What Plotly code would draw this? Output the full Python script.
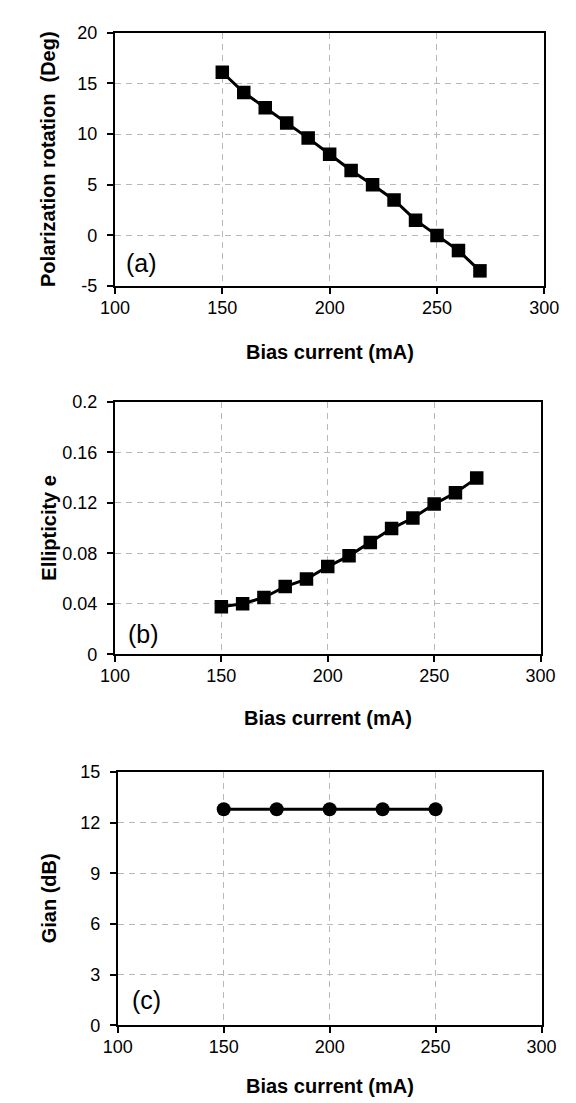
import plotly.graph_objects as go

# Panel (a): polarization rotation
current_a = [150, 160, 170, 180, 190, 200, 210, 220, 230, 240, 250, 260, 270]
rotation_deg = [16.1, 14.1, 12.6, 11.1, 9.6, 8.0, 6.4, 5.0, 3.5, 1.5, 0.0, -1.5, -3.5]

# Panel (b): ellipticity
current_b = [150, 160, 170, 180, 190, 200, 210, 220, 230, 240, 250, 260, 270]
ellipticity = [0.0377, 0.040, 0.045, 0.0536, 0.0596, 0.0695, 0.078, 0.0886, 0.0996, 0.108, 0.119, 0.128, 0.1396]

# Panel (c): gain
current_c = [150, 175, 200, 225, 250]
gain_db = [12.8, 12.8, 12.8, 12.8, 12.8]

x_ticks = [100, 150, 200, 250, 300]
ya_ticks = [-5, 0, 5, 10, 15, 20]
yb_ticks = [0, 0.04, 0.08, 0.12, 0.16, 0.2]
yb_text = ["0", "0.04", "0.08", "0.12", "0.16", "0.2"]
yc_ticks = [0, 3, 6, 9, 12, 15]

FONT = "Liberation Sans, Arial, sans-serif"
W, H = 576, 1103

fig = go.Figure()
fig.add_trace(go.Scatter(x=current_a, y=rotation_deg, mode="lines+markers",
                         line=dict(color="black", width=3),
                         marker=dict(symbol="square", size=13.5, color="black"),
                         xaxis="x", yaxis="y", showlegend=False))
fig.add_trace(go.Scatter(x=current_b, y=ellipticity, mode="lines+markers",
                         line=dict(color="black", width=3),
                         marker=dict(symbol="square", size=13.5, color="black"),
                         xaxis="x2", yaxis="y2", showlegend=False))
fig.add_trace(go.Scatter(x=current_c, y=gain_db, mode="lines+markers",
                         line=dict(color="black", width=3),
                         marker=dict(symbol="circle", size=14, color="black"),
                         xaxis="x3", yaxis="y3", showlegend=False))

def px_x(p):
    return p / W

def px_y(p):
    return 1 - p / H

panels = [
    # (left, right, top, bottom) in px
    dict(l=97, r=550, t=15, b=273, yr=[-5, 20], yt=ya_ticks, ytt=[str(v) for v in ya_ticks],
         ytitle="Polarization rotation\u00a0 (Deg)", label="(a)", lab_xy=(125, 250), xt_y=340),
    dict(l=97, r=546, t=391, b=648, yr=[0, 0.2], yt=yb_ticks, ytt=yb_text,
         ytitle="Ellipticity e", label="(b)", lab_xy=(127, 627), xt_y=713),
    dict(l=100, r=547, t=768, b=1026, yr=[0, 15], yt=yc_ticks, ytt=[str(v) for v in yc_ticks],
         ytitle="Gian (dB)", label="(c)", lab_xy=(130, 1000), xt_y=1088),
]

layout = dict(width=W, height=H, margin=dict(l=0, r=0, t=0, b=0),
              paper_bgcolor="white", plot_bgcolor="white",
              font=dict(family=FONT, size=18, color="black"))
annotations = []
for i, p in enumerate(panels):
    sfx = "" if i == 0 else str(i + 1)
    common = dict(showline=True, linecolor="black", linewidth=2, mirror=True,
                  ticks="outside", ticklen=6, tickwidth=1.5, tickcolor="black",
                  showgrid=True, gridcolor="#b8b8b8", gridwidth=1, griddash="6px,5px",
                  zeroline=False, tickfont=dict(family=FONT, size=18, color="black"))
    layout["xaxis" + sfx] = dict(common, domain=[px_x(p["l"]), px_x(p["r"])], range=[100, 300],
                                 tickvals=x_ticks, ticktext=[str(v) for v in x_ticks],
                                 anchor="y" + sfx, ticklabelstandoff=-2)
    layout["yaxis" + sfx] = dict(common, domain=[px_y(p["b"]), px_y(p["t"])], range=p["yr"],
                                 tickvals=p["yt"], ticktext=p["ytt"], anchor="x" + sfx,
                                 ticklabelstandoff=6)
    cx = (p["l"] + p["r"]) / 2
    annotations.append(dict(text="<b>Bias current (mA)</b>", x=px_x(cx), y=px_y(p["xt_y"]),
                            xref="paper", yref="paper", showarrow=False,
                            xanchor="center", yanchor="middle",
                            font=dict(family=FONT, size=20, color="black")))
    cy = (p["t"] + p["b"]) / 2
    annotations.append(dict(text="<b>" + p["ytitle"] + "</b>", x=px_x(27), y=px_y(cy),
                            xref="paper", yref="paper", showarrow=False, textangle=-90,
                            xanchor="center", yanchor="middle",
                            font=dict(family=FONT, size=20, color="black")))
    annotations.append(dict(text=p["label"], x=px_x(p["lab_xy"][0]), y=px_y(p["lab_xy"][1]),
                            xref="paper", yref="paper", showarrow=False,
                            xanchor="center", yanchor="middle",
                            font=dict(family=FONT, size=25, color="black")))
layout["annotations"] = annotations
fig.update_layout(**layout)
fig.write_html("out.html")
